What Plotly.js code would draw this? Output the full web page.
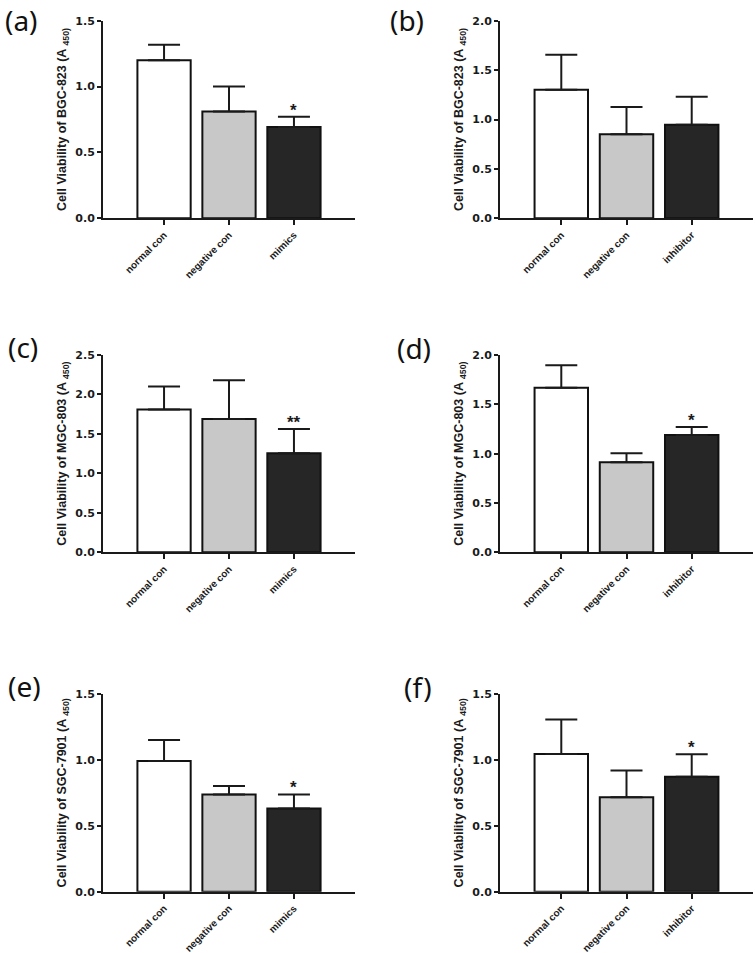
<!DOCTYPE html>
<html><head><meta charset="utf-8">
<script src="https://cdn.plot.ly/plotly-3.0.1.min.js"></script>
<style>html,body{margin:0;padding:0;background:#fff;}#chart{width:755px;height:953px;}</style>
</head><body><div id="chart"></div>
<script>
// ---- data ----
const catsMimics = ['normal con', 'negative con', 'mimics'];
const catsInhibitor = ['normal con', 'negative con', 'inhibitor'];
const panelLabels = ['(a)', '(b)', '(c)', '(d)', '(e)', '(f)'];
const cellLines = ['BGC-823', 'BGC-823', 'MGC-803', 'MGC-803', 'SGC-7901', 'SGC-7901'];
const yMax = [1.5, 2.0, 2.5, 2.0, 1.5, 1.5];

const meansA = [1.20, 0.81, 0.693];
const errA   = [0.118, 0.19, 0.077];
const sigA   = ['', '', '*'];

const meansB = [1.30, 0.85, 0.947];
const errB   = [0.356, 0.277, 0.283];
const sigB   = ['', '', ''];

const meansC = [1.808, 1.69, 1.255];
const errC   = [0.292, 0.49, 0.308];
const sigC   = ['', '', '**'];

const meansD = [1.669, 0.912, 1.19];
const errD   = [0.227, 0.092, 0.08];
const sigD   = ['', '', '*'];

const meansE = [0.991, 0.738, 0.632];
const errE   = [0.16, 0.064, 0.106];
const sigE   = ['', '', '*'];

const meansF = [1.044, 0.716, 0.873];
const errF   = [0.263, 0.204, 0.169];
const sigF   = ['', '', '*'];

const barColors = ['#ffffff', '#c8c8c8', '#262626'];

// ---- layout helpers ----
const W = 755, H = 953;
const panels = [
  {cats: catsMimics, means: meansA, err: errA, sig: sigA},
  {cats: catsInhibitor, means: meansB, err: errB, sig: sigB},
  {cats: catsMimics, means: meansC, err: errC, sig: sigC},
  {cats: catsInhibitor, means: meansD, err: errD, sig: sigD},
  {cats: catsMimics, means: meansE, err: errE, sig: sigE},
  {cats: catsInhibitor, means: meansF, err: errF, sig: sigF}
];
const colPx = [[103, 355], [500, 753]];
const rowPx = [[20.7, 218.3], [355, 552.3], [694, 891.7]];
const labelPos = [[3, 20], [388, 20], [6, 347], [395, 348], [6, 686], [402, 687]];

const data = [];
const layout = {
  width: W, height: H,
  margin: {l: 0, r: 0, t: 0, b: 0},
  paper_bgcolor: '#ffffff', plot_bgcolor: 'rgba(0,0,0,0)',
  showlegend: false,
  annotations: []
};

const xTickFont = {family: 'Liberation Sans, Arial', size: 10, color: '#1a1a1a', weight: 'bold'};
const yTickFont = {family: 'DejaVu Sans', size: 11, color: '#1a1a1a', weight: 'bold'};

panels.forEach((p, i) => {
  const n = i + 1;
  const col = i % 2, row = Math.floor(i / 2);
  const xa = 'xaxis' + (n === 1 ? '' : n), ya = 'yaxis' + (n === 1 ? '' : n);
  const xr = 'x' + (n === 1 ? '' : n), yr = 'y' + (n === 1 ? '' : n);
  data.push({
    type: 'bar', x: p.cats, y: p.means, xaxis: xr, yaxis: yr,
    width: 0.82,
    marker: {color: barColors, line: {color: '#111', width: 2}},
    error_y: {type: 'data', symmetric: false, array: p.err, arrayminus: p.cats.map(() => 0),
              color: '#1a1a1a', thickness: 2, width: 16},
    hoverinfo: 'skip'
  });
  layout[xa] = {
    domain: [colPx[col][0] / W, colPx[col][1] / W],
    anchor: yr, type: 'category', range: [-0.94, 2.94],
    showline: true, linecolor: '#1a1a1a', linewidth: 2,
    ticks: 'outside', ticklen: 5, tickwidth: 2, tickcolor: '#1a1a1a',
    tickangle: -45, tickfont: xTickFont, showgrid: false, zeroline: false, fixedrange: true
  };
  layout[ya] = {
    domain: [1 - rowPx[row][1] / H, 1 - rowPx[row][0] / H],
    anchor: xr, range: [0, yMax[i]], dtick: 0.5, tickformat: '.1f',
    showline: true, linecolor: '#1a1a1a', linewidth: 2,
    ticks: 'outside', ticklen: 4, tickwidth: 2, tickcolor: '#1a1a1a',
    tickfont: yTickFont,
    showgrid: false, zeroline: false, fixedrange: true,
    title: {text: 'Cell Viability of ' + cellLines[i] + ' (A <sub>450)</sub>',
            font: {family: 'Liberation Sans, Arial', size: 12.5, color: '#1a1a1a', weight: 'bold'},
            standoff: 6}
  };
  // significance marks
  p.sig.forEach((s, k) => {
    if (!s) return;
    layout.annotations.push({
      x: p.cats[k], y: p.means[k] + p.err[k], xref: xr, yref: yr,
      text: s, showarrow: false, yanchor: 'bottom', yshift: -5,
      font: {family: 'Liberation Sans, Arial', size: 17, color: '#1a1a1a', weight: 'bold'}
    });
  });
  // panel label
  layout.annotations.push({
    x: labelPos[i][0] / W, y: 1 - labelPos[i][1] / H, xref: 'paper', yref: 'paper',
    xanchor: 'left', yanchor: 'middle', showarrow: false, text: panelLabels[i],
    font: {family: 'Noto Sans', size: 28, color: '#111'}
  });
});

Plotly.newPlot('chart', data, layout, {displayModeBar: false, staticPlot: true});
</script>
</body></html>
